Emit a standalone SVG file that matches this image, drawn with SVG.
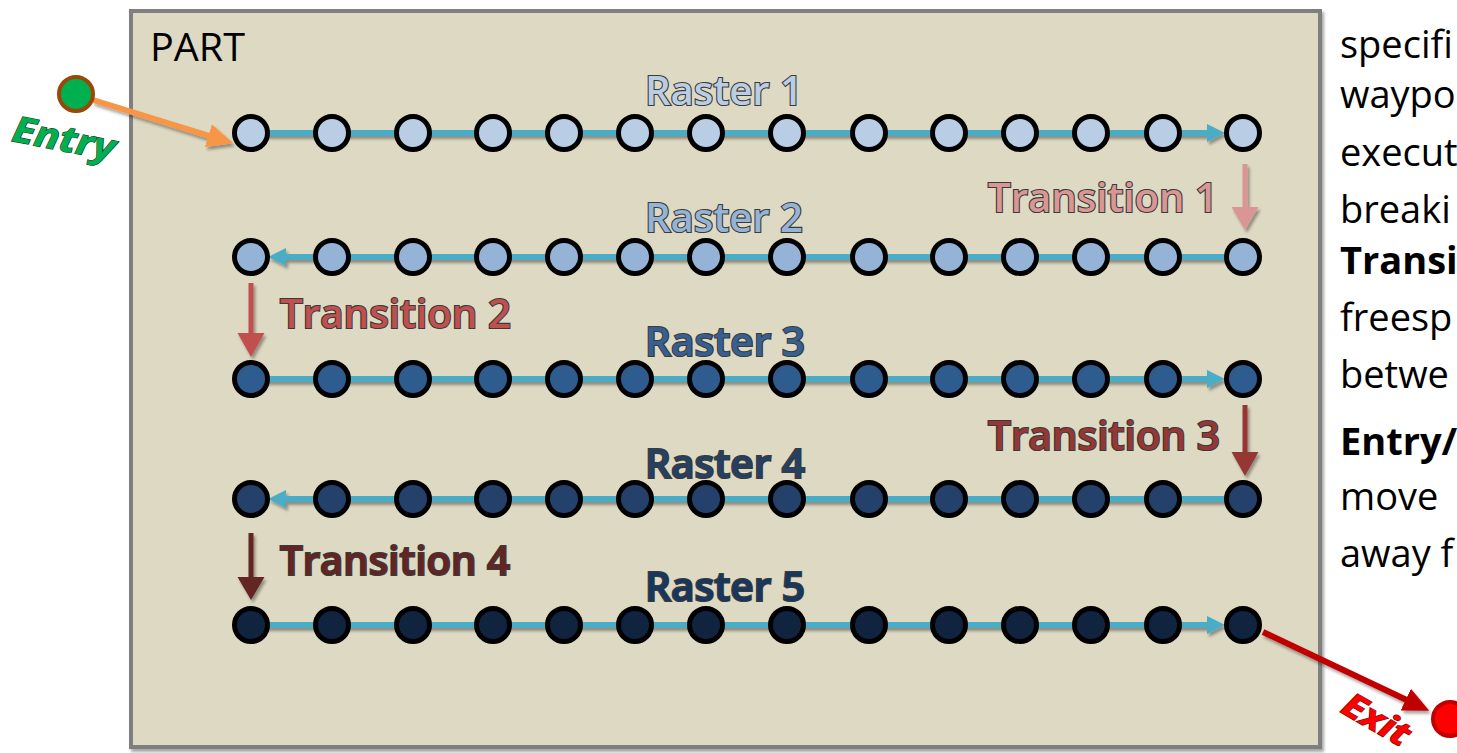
<svg xmlns="http://www.w3.org/2000/svg" width="1457" height="753" viewBox="0 0 1457 753">
<defs>
<style>
.n{stroke:#000;stroke-width:5}
.r1{fill:#B9CDE5}.r2{fill:#95B3D7}.r3{fill:#2F5C8F}.r4{fill:#23416B}.r5{fill:#10233F}
.ln{stroke:#4BACC6;stroke-width:6;fill:none}
.lbl{font-family:"Open Sans","Liberation Sans",sans-serif;font-size:40px;font-weight:600;stroke:#3A3A3A;stroke-width:2.2;paint-order:stroke}
.side{font-family:"Open Sans","Liberation Sans",sans-serif;font-size:38px;fill:#000}
</style>
<filter id="sh" filterUnits="userSpaceOnUse" x="0" y="0" width="1457" height="753">
<feDropShadow dx="2" dy="3" stdDeviation="1.5" flood-color="#000" flood-opacity="0.35"/>
</filter>
<marker id="at" markerUnits="userSpaceOnUse" markerWidth="20" markerHeight="20" refX="6" refY="9" orient="auto">
<path d="M0,0 L18,9 L0,18 z" fill="#4BACC6"/>
</marker>
<marker id="ao" markerUnits="userSpaceOnUse" markerWidth="28" markerHeight="26" refX="8" refY="12" orient="auto">
<path d="M0,0 L26,12 L0,24 z" fill="#F79646"/>
</marker>
<marker id="ar" markerUnits="userSpaceOnUse" markerWidth="28" markerHeight="26" refX="8" refY="12" orient="auto">
<path d="M0,0 L26,12 L0,24 z" fill="#C00000"/>
</marker>
</defs>
<rect width="1457" height="753" fill="#FFFFFF"/>
<g id="part" filter="url(#sh)">
<rect x="131" y="11" width="1189" height="736" fill="#DDD9C3" stroke="#7F7F7F" stroke-width="4"/>
</g>
<text x="150" y="61" font-family="Open Sans, Liberation Sans, sans-serif" font-size="38" textLength="95" lengthAdjust="spacingAndGlyphs" fill="#000">PART</text>

<g id="connectors" filter="url(#sh)">
<line class="ln" x1="251" y1="133" x2="1213" y2="133" marker-end="url(#at)"/>
<line class="ln" x1="1243" y1="257" x2="280" y2="257" marker-end="url(#at)"/>
<line class="ln" x1="251" y1="379" x2="1213" y2="379" marker-end="url(#at)"/>
<line class="ln" x1="1243" y1="499" x2="280" y2="499" marker-end="url(#at)"/>
<line class="ln" x1="251" y1="625" x2="1213" y2="625" marker-end="url(#at)"/>
<line x1="93" y1="100" x2="216" y2="138" stroke="#F79646" stroke-width="6" marker-end="url(#ao)"/>
<line x1="1263" y1="632" x2="1413" y2="703" stroke="#C00000" stroke-width="6" marker-end="url(#ar)"/>
<path id="t1" d="M1242.5,164 h5 v43 h11 l-13.5,23 l-13.5,-23 h11 z" fill="#D99694"/>
<path id="t2" d="M248.5,283 h5 v50 h11 l-13.5,24 l-13.5,-24 h11 z" fill="#C0504D"/>
<path id="t3" d="M1242.5,405 h5 v47 h11 l-13.5,24 l-13.5,-24 h11 z" fill="#953735"/>
<path id="t4" d="M248.5,533 h5 v44 h11 l-13.5,23 l-13.5,-23 h11 z" fill="#632523"/>
</g>

<g id="row1">
<g id="r1n1"><circle class="n r1" cx="251" cy="133" r="16.5"/></g>
<g id="r1n2"><circle class="n r1" cx="332" cy="133" r="16.5"/></g>
<g id="r1n3"><circle class="n r1" cx="413" cy="133" r="16.5"/></g>
<g id="r1n4"><circle class="n r1" cx="493" cy="133" r="16.5"/></g>
<g id="r1n5"><circle class="n r1" cx="564" cy="133" r="16.5"/></g>
<g id="r1n6"><circle class="n r1" cx="635" cy="133" r="16.5"/></g>
<g id="r1n7"><circle class="n r1" cx="706" cy="133" r="16.5"/></g>
<g id="r1n8"><circle class="n r1" cx="787" cy="133" r="16.5"/></g>
<g id="r1n9"><circle class="n r1" cx="869" cy="133" r="16.5"/></g>
<g id="r1n10"><circle class="n r1" cx="949" cy="133" r="16.5"/></g>
<g id="r1n11"><circle class="n r1" cx="1020" cy="133" r="16.5"/></g>
<g id="r1n12"><circle class="n r1" cx="1091" cy="133" r="16.5"/></g>
<g id="r1n13"><circle class="n r1" cx="1163" cy="133" r="16.5"/></g>
<g id="r1n14"><circle class="n r1" cx="1243" cy="133" r="16.5"/></g>
</g>
<g id="row2">
<g id="r2n1"><circle class="n r2" cx="251" cy="257" r="16.5"/></g>
<g id="r2n2"><circle class="n r2" cx="332" cy="257" r="16.5"/></g>
<g id="r2n3"><circle class="n r2" cx="413" cy="257" r="16.5"/></g>
<g id="r2n4"><circle class="n r2" cx="493" cy="257" r="16.5"/></g>
<g id="r2n5"><circle class="n r2" cx="564" cy="257" r="16.5"/></g>
<g id="r2n6"><circle class="n r2" cx="635" cy="257" r="16.5"/></g>
<g id="r2n7"><circle class="n r2" cx="706" cy="257" r="16.5"/></g>
<g id="r2n8"><circle class="n r2" cx="787" cy="257" r="16.5"/></g>
<g id="r2n9"><circle class="n r2" cx="869" cy="257" r="16.5"/></g>
<g id="r2n10"><circle class="n r2" cx="949" cy="257" r="16.5"/></g>
<g id="r2n11"><circle class="n r2" cx="1020" cy="257" r="16.5"/></g>
<g id="r2n12"><circle class="n r2" cx="1091" cy="257" r="16.5"/></g>
<g id="r2n13"><circle class="n r2" cx="1163" cy="257" r="16.5"/></g>
<g id="r2n14"><circle class="n r2" cx="1243" cy="257" r="16.5"/></g>
</g>
<g id="row3">
<g id="r3n1"><circle class="n r3" cx="251" cy="379" r="16.5"/></g>
<g id="r3n2"><circle class="n r3" cx="332" cy="379" r="16.5"/></g>
<g id="r3n3"><circle class="n r3" cx="413" cy="379" r="16.5"/></g>
<g id="r3n4"><circle class="n r3" cx="493" cy="379" r="16.5"/></g>
<g id="r3n5"><circle class="n r3" cx="564" cy="379" r="16.5"/></g>
<g id="r3n6"><circle class="n r3" cx="635" cy="379" r="16.5"/></g>
<g id="r3n7"><circle class="n r3" cx="706" cy="379" r="16.5"/></g>
<g id="r3n8"><circle class="n r3" cx="787" cy="379" r="16.5"/></g>
<g id="r3n9"><circle class="n r3" cx="869" cy="379" r="16.5"/></g>
<g id="r3n10"><circle class="n r3" cx="949" cy="379" r="16.5"/></g>
<g id="r3n11"><circle class="n r3" cx="1020" cy="379" r="16.5"/></g>
<g id="r3n12"><circle class="n r3" cx="1091" cy="379" r="16.5"/></g>
<g id="r3n13"><circle class="n r3" cx="1163" cy="379" r="16.5"/></g>
<g id="r3n14"><circle class="n r3" cx="1243" cy="379" r="16.5"/></g>
</g>
<g id="row4">
<g id="r4n1"><circle class="n r4" cx="251" cy="499" r="16.5"/></g>
<g id="r4n2"><circle class="n r4" cx="332" cy="499" r="16.5"/></g>
<g id="r4n3"><circle class="n r4" cx="413" cy="499" r="16.5"/></g>
<g id="r4n4"><circle class="n r4" cx="493" cy="499" r="16.5"/></g>
<g id="r4n5"><circle class="n r4" cx="564" cy="499" r="16.5"/></g>
<g id="r4n6"><circle class="n r4" cx="635" cy="499" r="16.5"/></g>
<g id="r4n7"><circle class="n r4" cx="706" cy="499" r="16.5"/></g>
<g id="r4n8"><circle class="n r4" cx="787" cy="499" r="16.5"/></g>
<g id="r4n9"><circle class="n r4" cx="869" cy="499" r="16.5"/></g>
<g id="r4n10"><circle class="n r4" cx="949" cy="499" r="16.5"/></g>
<g id="r4n11"><circle class="n r4" cx="1020" cy="499" r="16.5"/></g>
<g id="r4n12"><circle class="n r4" cx="1091" cy="499" r="16.5"/></g>
<g id="r4n13"><circle class="n r4" cx="1163" cy="499" r="16.5"/></g>
<g id="r4n14"><circle class="n r4" cx="1243" cy="499" r="16.5"/></g>
</g>
<g id="row5">
<g id="r5n1"><circle class="n r5" cx="251" cy="625" r="16.5"/></g>
<g id="r5n2"><circle class="n r5" cx="332" cy="625" r="16.5"/></g>
<g id="r5n3"><circle class="n r5" cx="413" cy="625" r="16.5"/></g>
<g id="r5n4"><circle class="n r5" cx="493" cy="625" r="16.5"/></g>
<g id="r5n5"><circle class="n r5" cx="564" cy="625" r="16.5"/></g>
<g id="r5n6"><circle class="n r5" cx="635" cy="625" r="16.5"/></g>
<g id="r5n7"><circle class="n r5" cx="706" cy="625" r="16.5"/></g>
<g id="r5n8"><circle class="n r5" cx="787" cy="625" r="16.5"/></g>
<g id="r5n9"><circle class="n r5" cx="869" cy="625" r="16.5"/></g>
<g id="r5n10"><circle class="n r5" cx="949" cy="625" r="16.5"/></g>
<g id="r5n11"><circle class="n r5" cx="1020" cy="625" r="16.5"/></g>
<g id="r5n12"><circle class="n r5" cx="1091" cy="625" r="16.5"/></g>
<g id="r5n13"><circle class="n r5" cx="1163" cy="625" r="16.5"/></g>
<g id="r5n14"><circle class="n r5" cx="1243" cy="625" r="16.5"/></g>
</g>

<g id="labels">
<text class="lbl" x="645" y="105" textLength="158" lengthAdjust="spacingAndGlyphs" fill="#B9CDE5" stroke="#555B63">Raster 1</text>
<text class="lbl" x="645" y="232" textLength="158" lengthAdjust="spacingAndGlyphs" fill="#95B3D7" stroke="#4A5260">Raster 2</text>
<text class="lbl" x="645" y="356" textLength="160" lengthAdjust="spacingAndGlyphs" fill="#376092">Raster 3</text>
<text class="lbl" x="645" y="478" textLength="160" lengthAdjust="spacingAndGlyphs" fill="#254061">Raster 4</text>
<text class="lbl" x="645" y="601" textLength="160" lengthAdjust="spacingAndGlyphs" fill="#17375E">Raster 5</text>
<text class="lbl" x="988" y="212" textLength="230" lengthAdjust="spacingAndGlyphs" fill="#D99694" stroke="#5A3F3E">Transition 1</text>
<text class="lbl" x="280" y="328" textLength="231" lengthAdjust="spacingAndGlyphs" fill="#C0504D">Transition 2</text>
<text class="lbl" x="988" y="450" textLength="232" lengthAdjust="spacingAndGlyphs" fill="#953735">Transition 3</text>
<text class="lbl" x="280" y="575" textLength="230" lengthAdjust="spacingAndGlyphs" fill="#632523">Transition 4</text>
</g>

<g id="entry">
<circle cx="76" cy="94" r="17" fill="#00B050" stroke="#984807" stroke-width="4"/>
<text transform="translate(64,139) rotate(11)" x="0" y="12" text-anchor="middle" font-family="Open Sans, Liberation Sans, sans-serif" font-size="36" font-weight="bold" font-style="italic" textLength="104" lengthAdjust="spacingAndGlyphs" fill="#00B050" stroke="#1E3A1E" stroke-width="1.2" paint-order="stroke">Entry</text>
</g>
<g id="exit">
<circle cx="1450" cy="719" r="17" fill="#FF0000" stroke="#C00000" stroke-width="4"/>
<text transform="translate(1376,720) rotate(30)" x="0" y="11" text-anchor="middle" font-family="Open Sans, Liberation Sans, sans-serif" font-size="34" font-weight="bold" font-style="italic" textLength="72" lengthAdjust="spacingAndGlyphs" fill="#FF0000" stroke="#7A0000" stroke-width="1.2" paint-order="stroke">Exit</text>
</g>

<g id="sidetext">
<text class="side" x="1340" y="58">specifi</text>
<text class="side" x="1340" y="108">waypo</text>
<text class="side" x="1340" y="166">execut</text>
<text class="side" x="1340" y="223">breaki</text>
<text class="side" x="1340" y="274" font-weight="bold">Transi</text>
<text class="side" x="1340" y="331">freesp</text>
<text class="side" x="1340" y="388">betwe</text>
<text class="side" x="1340" y="455" font-weight="bold">Entry/</text>
<text class="side" x="1340" y="510">move</text>
<text class="side" x="1340" y="567">away f</text>
</g>
</svg>
